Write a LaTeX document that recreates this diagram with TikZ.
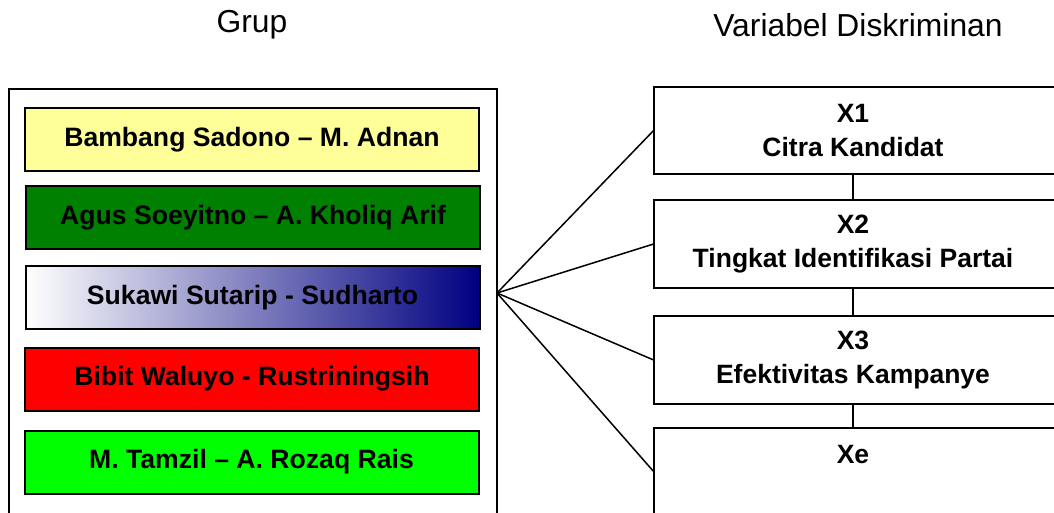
\documentclass[tikz,border=0pt]{standalone}
\usepackage{fontspec}
\setmainfont{Liberation Sans}
\definecolor{paleyellow}{HTML}{FFFF99}
\definecolor{darkgreen}{HTML}{008000}
\definecolor{navyblue}{HTML}{000080}
\definecolor{limegreen}{HTML}{00FF00}
\tikzset{
  grupbox/.style={draw, line width=1pt, minimum width=227pt, minimum height=31.5pt,
    inner sep=0pt, font=\fontsize{13.3}{16}\selectfont\bfseries},
  varbox/.style={minimum width=199pt, minimum height=43.5pt, inner sep=0pt,
    align=center, font=\fontsize{13.25}{17}\selectfont\bfseries},
  judul/.style={font=\fontsize{15.9}{19}\selectfont},
  garis/.style={line width=0.75pt}
}
\begin{document}
\begin{tikzpicture}[x=0.5pt,y=-0.5pt]
  \useasboundingbox (0,0) rectangle (1054,513);
  \coordinate (fan) at (497,293);
  \node[judul] (grup) at (252,25) {Grup};
  \node[judul] (variabel) at (858,25) {Variabel Diskriminan};
\draw[line width=1pt] (9,89) rectangle (497,530);
\node[grupbox,fill=paleyellow] (g1) at (252,139.5) {Bambang Sadono – M. Adnan};
\node[grupbox,fill=darkgreen] (g2) at (253,218) {Agus Soeyitno – A. Kholiq Arif};
\node[grupbox,left color=white,right color=navyblue] (g3) at (252.5,297.5) {Sukawi Sutarip - Sudharto};
\node[grupbox,fill=red] (g4) at (252,379) {Bibit Waluyo - Rustriningsih};
\node[grupbox,fill=limegreen] (g5) at (251.5,462) {M. Tamzil – A. Rozaq Rais};
\node[varbox] (x1) at (853,130.5) {X1\\Citra Kandidat};
\node[varbox] (x2) at (853,244) {X2\\Tingkat Identifikasi Partai};
\node[varbox] (x3) at (853,360) {X3\\Efektivitas Kampanye};
\node[varbox] (xe) at (853,471.5) {Xe\\~};
\draw[line width=1pt] (x1.north west) rectangle ([xshift=30pt]x1.south east);
\draw[line width=1pt] (x2.north west) rectangle ([xshift=30pt]x2.south east);
\draw[line width=1pt] (x3.north west) rectangle ([xshift=30pt]x3.south east);
\draw[line width=1pt] (xe.north west) rectangle ([xshift=30pt]xe.south east);
\draw[garis] (fan)--(x1.west);
\draw[garis] (fan)--(x2.west);
\draw[garis] (fan)--(x3.west);
\draw[garis] (fan)--(xe.west);
\draw[garis] (x1.south)--(x2.north);
\draw[garis] (x2.south)--(x3.north);
\draw[garis] (x3.south)--(xe.north);
\end{tikzpicture}
\end{document}
